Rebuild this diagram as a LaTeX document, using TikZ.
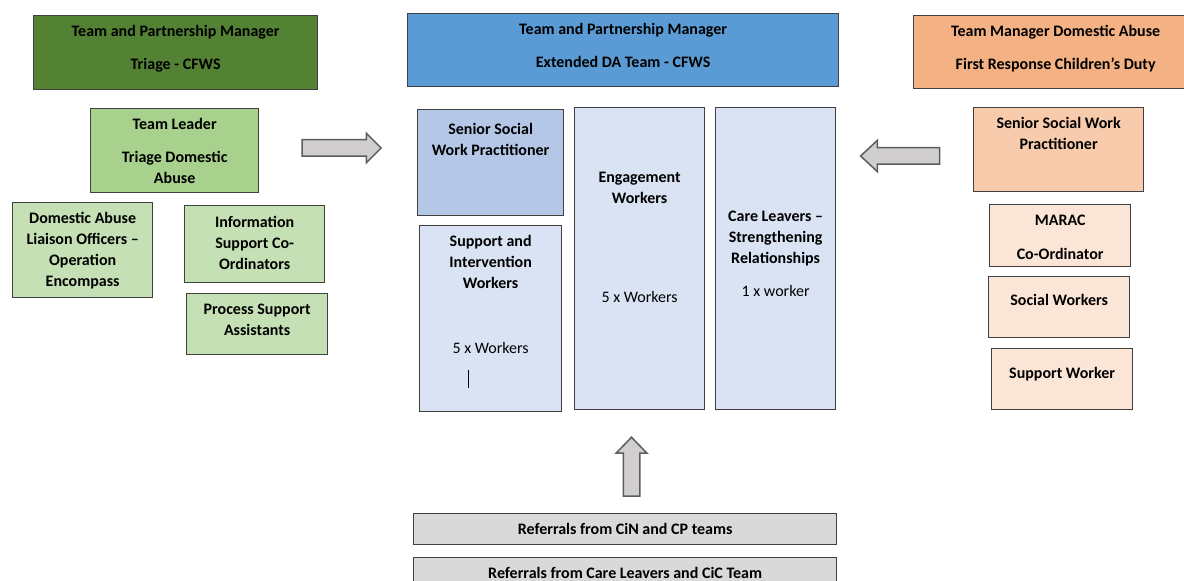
\documentclass[tikz,border=0pt]{standalone}
\usepackage{fontspec}
\setmainfont{Carlito}
\usetikzlibrary{shapes.arrows}

\definecolor{tpmgreen}{HTML}{548235}
\definecolor{leadgreen}{HTML}{A9D18E}
\definecolor{palegreen}{HTML}{C5E0B4}
\definecolor{tpmblue}{HTML}{5B9BD5}
\definecolor{midblue}{HTML}{B4C7E7}
\definecolor{paleblue}{HTML}{DAE3F3}
\definecolor{tmorange}{HTML}{F4B183}
\definecolor{midorange}{HTML}{F8CBAD}
\definecolor{paleorange}{HTML}{FBE5D6}
\definecolor{refgrey}{HTML}{D9D9D9}
\definecolor{arrowgrey}{HTML}{D0CECE}
\definecolor{edge}{HTML}{404040}

% width, height, first baseline from top, lines
\newcommand{\boxlines}[4]{\parbox[c][#2bp][t]{#1bp}{\centering\vspace*{\dimexpr#3bp-14.7bp\relax}\strut#4}}

\begin{document}
\begin{tikzpicture}[x=1bp,y=-1bp,
    box/.style={draw=edge,line width=1.3bp,inner sep=0pt,anchor=north west,text=black,
      font=\fontsize{16bp}{21bp}\selectfont\bfseries},
    arrowbox/.style={single arrow,draw=edge!85,fill=arrowgrey,line width=1.5bp,inner sep=0pt,
      single arrow head indent=0pt,minimum height=#1bp,text height=7.5bp,text depth=7.5bp}]

    \path[use as bounding box,clip] (0,0) rectangle (1184,581);

    % triage
    \node[box,fill=tpmgreen] (tpmT) at (33,15) {\boxlines{284}{74}{21}{Team and Partnership Manager\\[12bp] Triage - CFWS}};
    \node[box,fill=leadgreen] (tl) at (90,108) {\boxlines{168}{84}{21}{Team Leader\\[12bp] Triage Domestic\\ Abuse}};
    \node[box,fill=palegreen] (dalo) at (12,202) {\boxlines{140}{95}{21}{Domestic Abuse\\ Liaison Officers –\\ Operation\\ Encompass}};
    \node[box,fill=palegreen] (isc) at (184,205) {\boxlines{140}{77}{22}{Information\\ Support Co-\\ Ordinators}};
    \node[box,fill=palegreen] (psa) at (186,293) {\boxlines{141}{61}{21}{Process Support\\ Assistants}};

    % extended DA team
    \node[box,fill=tpmblue] (tpmE) at (407,13) {\boxlines{431}{73}{21}{Team and Partnership Manager\\[12bp] Extended DA Team - CFWS}};
    \node[box,fill=midblue] (sswpB) at (417,109) {\boxlines{146}{106}{25}{Senior Social\\ Work Practitioner}};
    \node[box,fill=paleblue] (siw) at (419,225) {\boxlines{142}{186}{21}{Support and\\ Intervention\\ Workers\\[44bp] {\mdseries 5 x Workers}}};
    \node[box,fill=paleblue] (eng) at (574,107) {\boxlines{130}{302}{75}{Engagement\\ Workers\\[78bp] {\mdseries 5 x Workers}}};
    \node[box,fill=paleblue] (clsr) at (715,107) {\boxlines{120}{302}{114}{Care Leavers –\\ Strengthening\\ Relationships\\[12bp] {\mdseries 1 x worker}}};
    \draw[line width=1bp] ([shift={(49,145)}]siw.north west) -- ++(0,18);

    % first response
    \node[box,fill=tmorange] (tmda) at (913,15) {\boxlines{284}{73}{21}{Team Manager Domestic Abuse\\[12bp] First Response Children’s Duty}};
    \node[box,fill=midorange] (sswpO) at (973,107) {\boxlines{170}{84}{21}{Senior Social Work\\ Practitioner}};
    \node[box,fill=paleorange] (marac) at (989,204) {\boxlines{141}{62}{21}{MARAC\\[13bp] Co-Ordinator}};
    \node[box,fill=paleorange] (sw) at (988,276) {\boxlines{141}{61}{29}{Social Workers}};
    \node[box,fill=paleorange] (supw) at (991,348) {\boxlines{141}{61}{30}{Support Worker}};

    % referrals
    \node[box,fill=refgrey] (refA) at (413,513) {\boxlines{423}{31}{21}{Referrals from CiN and CP teams}};
    \node[box,fill=refgrey] (refB) at (413,557) {\boxlines{423}{31}{21}{Referrals from Care Leavers and CiC Team}};

    \node[arrowbox=79,single arrow head extend=6.5bp,single arrow tip angle=90] (arrR) at (337.5,148) {};
    \node[arrowbox=79,single arrow head extend=7.5bp,single arrow tip angle=86,rotate=180] (arrL) at (904.5,156) {};
    \node[arrowbox=59,single arrow head extend=7bp,single arrow tip angle=88,rotate=90] (arrU) at (631.5,471) {};

\end{tikzpicture}
\end{document}
